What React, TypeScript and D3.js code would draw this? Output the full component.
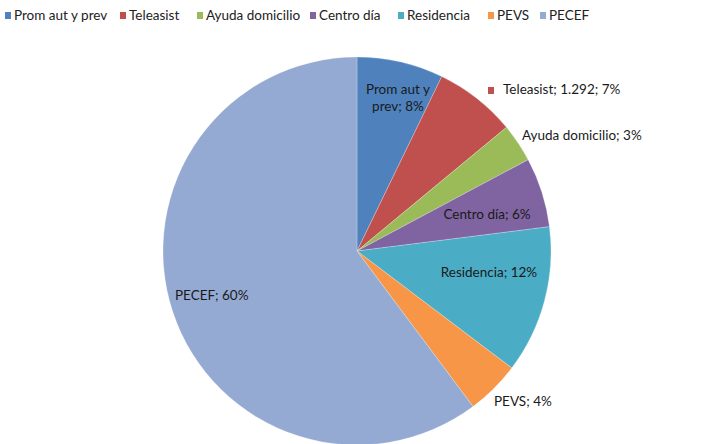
import React, { useEffect, useRef } from "react";
import * as d3 from "d3";

const categories = ["Prom aut y prev", "Teleasist", "Ayuda domicilio", "Centro día", "Residencia", "PEVS", "PECEF"];
const shares = [7.2, 6.8, 3.2, 5.8, 12.3, 4.5, 60.2];
const sliceLabels = [["Prom aut y", "prev; 8%"], ["Teleasist; 1.292; 7%"], ["Ayuda domicilio; 3%"], ["Centro día; 6%"], ["Residencia; 12%"], ["PEVS; 4%"], ["PECEF; 60%"]];
const colors = ["#4F81BD", "#C0504D", "#9BBB59", "#8064A2", "#4BACC6", "#F79646", "#95AAD2"];

type Datum = { name: string; value: number; idx: number };

const App: React.FC = () => {
  const ref = useRef<SVGSVGElement>(null);

  useEffect(() => {
    const width = 708;
    const height = 444;
    const cx = 357;
    const cy = 251;
    const radius = 194;
    const font = "Lato, 'Open Sans', sans-serif";

    const data: Datum[] = categories.map((name, i) => ({ name, value: shares[i], idx: i }));
    const color = d3.scaleOrdinal<string, string>().domain(categories).range(colors);

    const svg = d3.select(ref.current);
    svg.selectAll("*").remove();
    svg.attr("width", width).attr("height", height);
    svg.append("rect").attr("width", width).attr("height", height).attr("fill", "#fff");

    // legend along the top
    const legendX = [5, 120, 197, 310, 398, 488, 540];
    const legend = svg.append("g").style("font-family", font).style("font-size", "13.5px");
    data.forEach((d, i) => {
      legend.append("rect").attr("x", legendX[i]).attr("y", 12).attr("width", 6).attr("height", 7).attr("fill", color(d.name));
      legend.append("text").attr("x", legendX[i] + 9).attr("y", 20).attr("fill", "#222").text(d.name);
    });

    const pie = d3.pie<Datum>().value((d) => d.value).sort(null);
    const arcs = pie(data);
    const arc = d3.arc<d3.PieArcDatum<Datum>>().innerRadius(0).outerRadius(radius);

    const g = svg.append("g").attr("transform", `translate(${cx}, ${cy})`);
    g.selectAll("path")
      .data(arcs)
      .join("path")
      .attr("d", arc)
      .attr("fill", (d) => color(d.data.name))
      .attr("stroke", "#fff")
      .attr("stroke-opacity", 0.4)
      .attr("stroke-width", 0.6);

    // label anchor points relative to centre
    const labelPos: [number, number, string][] = [
      [41, -152, "middle"],
      [146, -160, "start"],
      [165, -114, "start"],
      [130, -35, "middle"],
      [132, 23, "middle"],
      [137, 152, "start"],
      [-182, 46, "start"],
    ];
    const lg = g.append("g").style("font-family", font).style("font-size", "13.5px").attr("fill", "#1a1a1a");
    arcs.forEach((a, i) => {
      const [x, y, anchor] = labelPos[i];
      const lines = sliceLabels[i];
      lines.forEach((line, j) => {
        lg.append("text")
          .attr("x", x)
          .attr("y", y + j * 17 - ((lines.length - 1) * 17) / 2)
          .attr("text-anchor", anchor)
          .attr("dominant-baseline", "middle")
          .text(line);
      });
      if (a.data.name === "Teleasist") {
        lg.append("rect").attr("x", x - 15).attr("y", y - 4).attr("width", 6).attr("height", 7).attr("fill", color(a.data.name));
      }
    });
  }, []);

  return <svg ref={ref} style={{ position: "absolute", left: 0, top: 0 }} />;
};

export default App;
